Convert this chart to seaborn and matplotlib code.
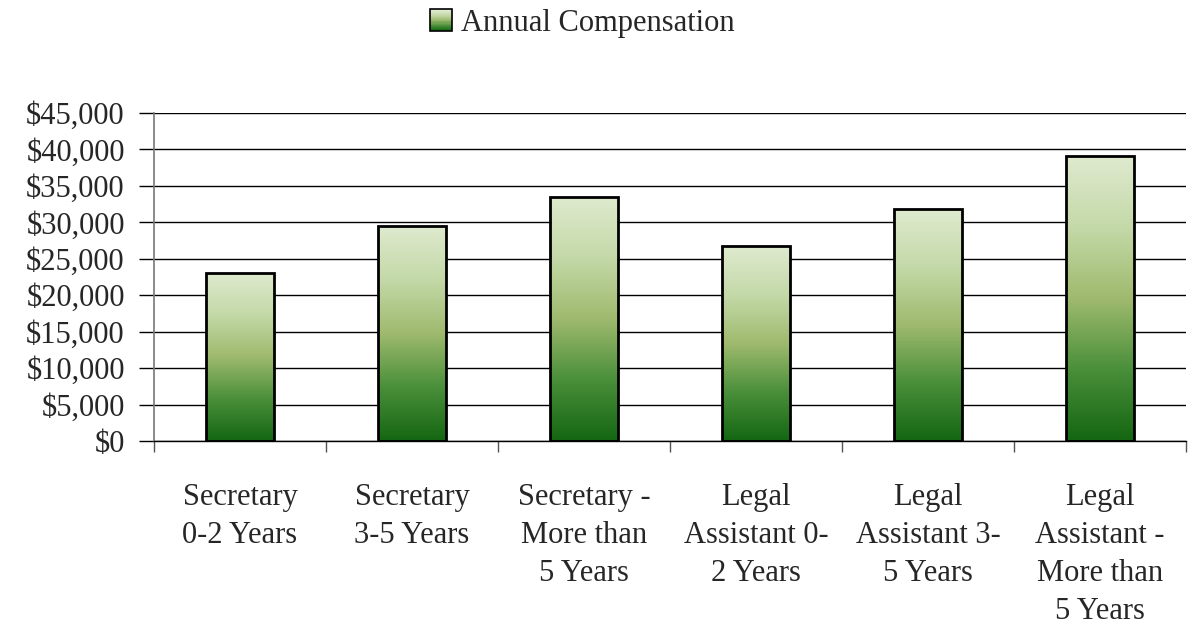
import numpy as np
import pandas as pd
import matplotlib
matplotlib.use('Agg')
import matplotlib.pyplot as plt
import seaborn as sns
from matplotlib.colors import LinearSegmentedColormap
from matplotlib.patches import Rectangle
from matplotlib.legend_handler import HandlerBase
from matplotlib.ticker import FuncFormatter, FixedLocator

categories = ['Secretary\n0-2 Years', 'Secretary\n3-5 Years', 'Secretary -\nMore than\n5 Years',
              'Legal\nAssistant 0-\n2 Years', 'Legal\nAssistant 3-\n5 Years',
              'Legal\nAssistant -\nMore than\n5 Years']
compensation = [23100, 29500, 33500, 26750, 31800, 39100]
series_name = 'Annual Compensation'

df = pd.DataFrame({'job': categories, 'pay': compensation})

sns.set_style('white')
plt.rcParams['font.family'] = ['Liberation Serif', 'DejaVu Serif']

green = LinearSegmentedColormap.from_list(
    'green', ['#146612', '#4a8f3a', '#9fba6e', '#c4d9a8', '#dfeacf'])

fig = plt.figure(figsize=(11.88, 6.35), dpi=100)
ax = fig.add_axes([0.1296, 0.3055, 0.8687, 0.5165])

sns.barplot(data=df, x='job', y='pay', width=0.4, ax=ax,
            facecolor='none', edgecolor='black', linewidth=2, zorder=3)

# gradient fill inside each bar
grad = np.linspace(0, 1, 256).reshape(-1, 1)
for p in ax.patches:
    x, w, h = p.get_x(), p.get_width(), p.get_height()
    im = ax.imshow(grad, extent=[x, x + w, 0, h], origin='lower', aspect='auto',
                   cmap=green, zorder=2)
    im.set_clip_path(p)
ax.set_ylim(0, 45000)
ax.set_xlim(-0.5, len(categories) - 0.5)

ax.yaxis.set_major_locator(FixedLocator(np.arange(0, 45001, 5000)))
ax.yaxis.set_major_formatter(FuncFormatter(lambda v, _: f'${int(v):,}'))
ax.grid(axis='y', color='black', linewidth=1, zorder=0)
ax.set_axisbelow(True)

ax.set_xlabel('')
ax.set_ylabel('')
ax.tick_params(axis='y', labelsize=22, length=11, width=1, color='black', pad=10, left=True)
ax.tick_params(axis='x', labelsize=22, length=0, pad=30)
ax.set_xticks(np.arange(len(categories)))
ax.set_xticklabels(categories, linespacing=1.42)
ax.xaxis.set_minor_locator(FixedLocator(np.arange(-0.5, len(categories), 1)))
ax.tick_params(axis='x', which='minor', length=8, width=1, color='#555555', bottom=True)

for s in ['top', 'right']:
    ax.spines[s].set_visible(False)
ax.spines['left'].set_color('#777777')
ax.spines['left'].set_linewidth(1.2)
ax.spines['bottom'].set_color('black')
ax.spines['bottom'].set_linewidth(1)


class GradHandler(HandlerBase):
    def create_artists(self, legend, orig_handle, xdescent, ydescent, width, height, fontsize, trans):
        n = 20
        side = height
        x0, y0 = -xdescent + (width - side) / 2, -ydescent
        arts = []
        for i in range(n):
            arts.append(Rectangle((x0, y0 + i * side / n), side, side / n, facecolor=green(i / (n - 1)),
                                  edgecolor='none', transform=trans))
        arts.append(Rectangle((x0, y0), side, side, facecolor='none', edgecolor='black',
                              linewidth=1.2, transform=trans))
        return arts


handle = Rectangle((0, 0), 1, 1)
fig.legend([handle], [series_name], handler_map={Rectangle: GradHandler()},
           loc='center', bbox_to_anchor=(0.49, 0.963), frameon=False, fontsize=22,
           handlelength=0.72, handleheight=0.72, handletextpad=0.3)

fig.savefig('out.png', dpi=100)
